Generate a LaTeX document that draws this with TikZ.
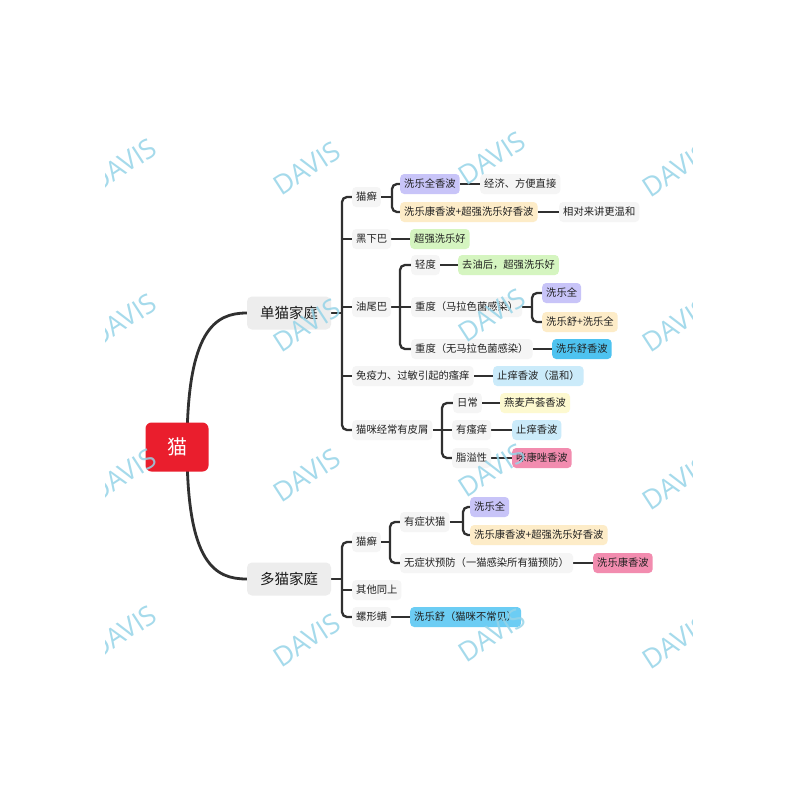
\documentclass[tikz,border=0pt]{standalone}
\usepackage{fontspec}
\newfontfamily\cjk{Noto Sans CJK SC}
\newfontfamily\wmfont{Open Sans}
\usetikzlibrary{backgrounds}
\definecolor{linec}{RGB}{48,48,48}
\definecolor{plaingray}{RGB}{245,245,245}
\definecolor{lonegray}{RGB}{237,237,237}
\definecolor{rootred}{RGB}{234,30,45}
\definecolor{cpurple}{RGB}{200,196,248}
\definecolor{ccream}{RGB}{253,236,200}
\definecolor{cgreen}{RGB}{213,245,192}
\definecolor{cblue}{RGB}{78,195,240}
\definecolor{cbluelt}{RGB}{203,235,250}
\definecolor{cblue2}{RGB}{108,205,244}
\definecolor{cpale}{RGB}{253,249,208}
\definecolor{cpink}{RGB}{242,140,175}
\definecolor{wmblue}{RGB}{150,212,232}
\tikzset{
  base/.style={font=\cjk\fontsize{10.3}{12}\selectfont, text height=8.2pt, text depth=2pt,
    inner xsep=4pt, inner ysep=4.9pt, rounded corners=4pt, anchor=west, text=black!87},
  plain/.style={base, fill=plaingray},
  pill/.style={base, fill=#1},
  lonebox/.style={font=\cjk\fontsize{14.5}{16}\selectfont, fill=lonegray, rounded corners=5pt,
    minimum width=84pt, minimum height=33pt, inner sep=0pt, text=black!90},
  rootbox/.style={font=\cjk\fontsize{20}{22}\selectfont, fill=rootred, text=white,
    rounded corners=6pt, minimum width=63pt, minimum height=49pt, inner sep=0pt},
  conn/.style={draw=linec, line width=2.3pt, rounded corners=5pt},
  mainc/.style={draw=linec, line width=2.8pt},
  wm/.style={font=\wmfont\fontsize{27}{30}\selectfont, text=wmblue, rotate=33, opacity=0.85}
}
\begin{document}
\begin{tikzpicture}[x=1pt,y=-1pt]
\useasboundingbox (0,0) rectangle (800,800);
% root and level 1
\node[rootbox] (root) at (177,447) {猫};
\node[lonebox] (s) at (289,313) {单猫家庭};
\node[lonebox] (m) at (289,579) {多猫家庭};
% single cat
\node[plain] (s1) at (352,197) {猫癣};
\node[pill=cpurple] (s1a) at (400,184) {洗乐全香波};
\node[plain] (s1a1) at (480,184) {经济、方便直接};
\node[pill=ccream] (s1b) at (400,212) {洗乐康香波+超强洗乐好香波};
\node[plain] (s1b1) at (559,212) {相对来讲更温和};
\node[plain] (s2) at (352,239) {黑下巴};
\node[pill=cgreen] (s2a) at (410,239) {超强洗乐好};
\node[plain] (s3) at (352,307) {油尾巴};
\node[plain] (s3a) at (411,265) {轻度};
\node[pill=cgreen] (s3a1) at (458,265) {去油后，超强洗乐好};
\node[plain] (s3b) at (411,307) {重度（马拉色菌感染）};
\node[pill=cpurple] (s3b1) at (542,293) {洗乐全};
\node[pill=ccream] (s3b2) at (542,322) {洗乐舒+洗乐全};
\node[plain] (s3c) at (411,349) {重度（无马拉色菌感染）};
\node[pill=cblue] (s3c1) at (552,349) {洗乐舒香波};
\node[plain] (s4) at (352,376) {免疫力、过敏引起的瘙痒};
\node[pill=cbluelt] (s4a) at (493,376) {止痒香波（温和）};
\node[plain] (s5) at (352,430) {猫咪经常有皮屑};
\node[plain] (s5a) at (453,403) {日常};
\node[pill=cpale] (s5a1) at (500,403) {燕麦芦荟香波};
\node[plain] (s5b) at (452,430) {有瘙痒};
\node[pill=cbluelt] (s5b1) at (512,430) {止痒香波};
\node[plain] (s5c) at (452,458) {脂溢性};
\node[pill=cpink] (s5c1) at (512,458) {咪康唑香波};
% multi cat
\node[plain] (m1) at (352,542) {猫癣};
\node[plain] (m1a) at (400,522) {有症状猫};
\node[pill=cpurple] (m1a1) at (470,507) {洗乐全};
\node[pill=ccream] (m1a2) at (470,535) {洗乐康香波+超强洗乐好香波};
\node[plain] (m1b) at (400,563) {无症状预防（一猫感染所有猫预防）};
\node[pill=cpink] (m1b1) at (593,563) {洗乐康香波};
\node[plain] (m2) at (352,590) {其他同上};
\node[plain] (m3) at (352,617) {螺形螨};
\node[pill=cblue2] (m3a) at (410,617) {洗乐舒（猫咪不常见）};
% bracket coordinates
\coordinate (bs) at (342,313);
\coordinate (bs1) at (392,197);
\coordinate (bs3) at (400,307);
\coordinate (bs3b) at (532,307);
\coordinate (bs5) at (442,430);
\coordinate (bm) at (342,579);
\coordinate (bm1) at (390,542);
\coordinate (bm1a) at (463,522);
\begin{scope}[on background layer]
\fill[white] (0,0) rectangle (800,800);
\draw[mainc] (187,447) .. controls (187,330) and (215,313) .. (s.west);
\draw[mainc] (187,447) .. controls (187,564) and (215,579) .. (m.west);
% single
\draw[conn] (s.east) -- (bs);
\draw[conn] (s1.west) -| (bs) |- (s5.west);
\draw[conn] (bs |- s2.west) -- (s2.west);
\draw[conn] (bs |- s3.west) -- (s3.west);
\draw[conn] (bs |- s4.west) -- (s4.west);
\draw[conn] (s1.east) -- (bs1);
\draw[conn] (s1a.west) -| (bs1) |- (s1b.west);
\draw[conn] (s1a.east) -- (s1a1.west);
\draw[conn] (s1b.east) -- (s1b1.west);
\draw[conn] (s2.east) -- (s2a.west);
\draw[conn] (s3.east) -- (bs3);
\draw[conn] (s3a.west) -| (bs3) |- (s3c.west);
\draw[conn] (bs3 |- s3b.west) -- (s3b.west);
\draw[conn] (s3a.east) -- (s3a1.west);
\draw[conn] (s3b.east) -- (bs3b);
\draw[conn] (s3b1.west) -| (bs3b) |- (s3b2.west);
\draw[conn] (s3c.east) -- (s3c1.west);
\draw[conn] (s4.east) -- (s4a.west);
\draw[conn] (s5.east) -- (bs5);
\draw[conn] (s5a.west) -| (bs5) |- (s5c.west);
\draw[conn] (bs5 |- s5b.west) -- (s5b.west);
\draw[conn] (s5a.east) -- (s5a1.west);
\draw[conn] (s5b.east) -- (s5b1.west);
\draw[conn] (s5c.east) -- (s5c1.west);
% multi
\draw[conn] (m.east) -- (bm);
\draw[conn] (m1.west) -| (bm) |- (m3.west);
\draw[conn] (bm |- m2.west) -- (m2.west);
\draw[conn] (m1.east) -- (bm1);
\draw[conn] (m1a.west) -| (bm1) |- (m1b.west);
\draw[conn] (m1a.east) -- (bm1a);
\draw[conn] (m1a1.west) -| (bm1a) |- (m1a2.west);
\draw[conn] (m1b.east) -- (m1b1.west);
\draw[conn] (m3.east) -- (m3a.west);
\end{scope}
% watermark
\begin{scope}
\clip (105,125) rectangle (692,675);
\foreach \x/\y [count=\i] in {123/165,307/168,492/158,676/170,
  123/320,307/325,492/315,676/325,
  123/475,307/475,492/470,676/483,
  123/632,307/640,492/635,676/642}
  \node[wm] (wm\i) at (\x,\y) {DAVIS};
\end{scope}
\end{tikzpicture}
\end{document}
